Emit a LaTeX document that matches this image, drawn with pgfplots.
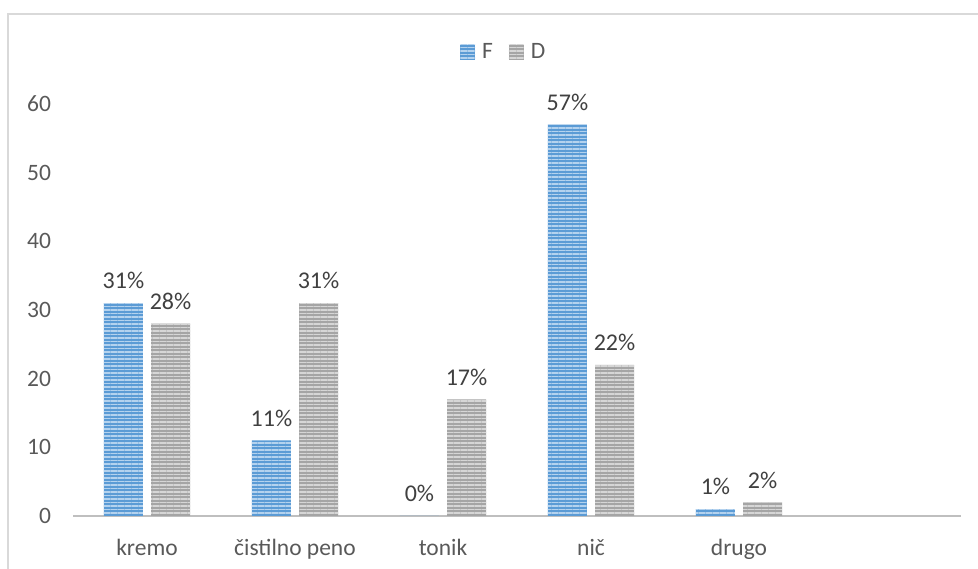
\documentclass[border=0pt]{standalone}
\usepackage{fontspec}
\setmainfont{Carlito}
\usepackage{pgfplots}
\pgfplotsset{compat=1.18}
\usetikzlibrary{patterns.meta}
\definecolor{fblue}{HTML}{5B9BD5}
\definecolor{fstripe}{HTML}{B4D2EE}
\definecolor{dgray}{HTML}{A5A5A5}
\definecolor{dstripe}{HTML}{D6D6D6}
\definecolor{txt}{HTML}{595959}
\definecolor{lbl}{HTML}{404040}
\definecolor{axisgray}{HTML}{BFBFBF}
\definecolor{framec}{HTML}{D9D9D9}
\begin{document}
\fontsize{23.5}{28}\selectfont
\begin{tikzpicture}[x=1pt,y=1pt]
\useasboundingbox (0,0) rectangle (978,569);
\draw[framec, line width=1.5pt] (8,-5) -- (8,555) -- (990,555);
\begin{axis}[
 at={(73pt,53pt)}, anchor=south west,
 scale only axis, width=888pt, height=412pt,
 xmin=-0.5, xmax=5.5, ymin=0, ymax=60,
 ybar, bar width=0.2635,
 axis x line=bottom, axis y line=left,
 x axis line style={-, draw=axisgray, line width=2.5pt},
 y axis line style={draw=none},
 tick style={draw=none}, major tick length=0pt,
 xtick={0,1,2,3,4},
 xticklabels={kremo, čistilno peno, tonik, nič, drugo},
 ytick={0,10,20,30,40,50,60},
 ticklabel style={font=\fontsize{23.5}{28}\selectfont, text=txt},
 yticklabel style={xshift=-14pt},
 xticklabel style={yshift=-15pt},
 /pgf/number format/assume math mode=true,
 clip=false,
 nodes near coords={\pgfmathprintnumber{\pgfplotspointmeta}\%},
 nodes near coords style={font=\fontsize{24}{28}\selectfont, text=lbl, anchor=south, yshift=6pt},
 legend style={at={(0.485,1.124)}, anchor=center, draw=none, fill=none,
   legend columns=2, font=\fontsize{23.5}{28}\selectfont, text=txt,
   /tikz/every odd column/.append style={column sep=5pt},
   /tikz/every even column/.append style={column sep=14pt}},
 legend image code/.code={\path[#1] (0pt,-7pt) rectangle (15pt,8pt);},
]
\addplot[bar shift=-0.159, draw=none, fill=fblue,
  postaction={pattern={Lines[angle=0,distance=3.5pt,line width=1.1pt]}, pattern color=fstripe}]
  coordinates {(0,31) (1,11) (2,0) (3,57) (4,1)};
\addlegendentry{F}
\addplot[bar shift=0.159, draw=none, fill=dgray,
  postaction={pattern={Lines[angle=0,distance=3.5pt,line width=1.1pt]}, pattern color=dstripe}]
  coordinates {(0,28) (1,31) (2,17) (3,22) (4,2)};
\addlegendentry{D}
\end{axis}
\end{tikzpicture}
\end{document}
